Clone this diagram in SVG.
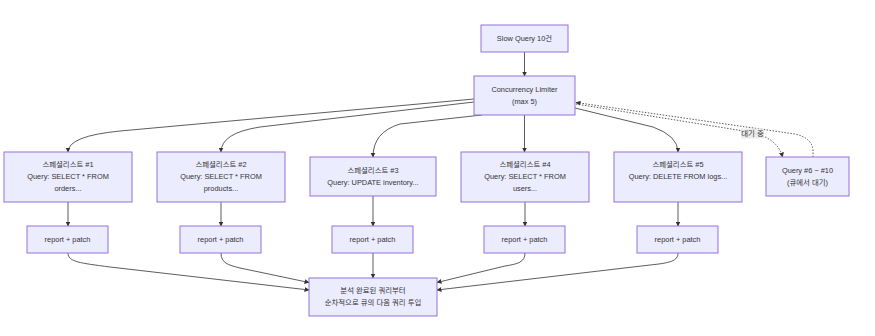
<svg xmlns="http://www.w3.org/2000/svg" width="875" height="336" viewBox="0 0 875 336">
<style>
.n rect{fill:#ECECFF;stroke:#9370DB;stroke-width:1}
text{font-family:"Liberation Sans","Noto Sans CJK KR",sans-serif;font-size:7.4px;fill:#333;text-anchor:middle;dominant-baseline:central}
.e{fill:none;stroke:#333;stroke-width:0.8}
.d{fill:none;stroke:#333;stroke-width:0.8;stroke-dasharray:1.5 1.5}
</style>
<defs>
<marker id="ah" viewBox="0 0 10 10" refX="9" refY="5" markerWidth="5" markerHeight="5" orient="auto" markerUnits="userSpaceOnUse">
<path d="M0,0 L10,5 L0,10 z" fill="#333"/>
</marker>
</defs>
<rect width="875" height="336" fill="#fff"/>
<g id="connectors">
<path class="e" d="M524.5,52 L524.5,76" marker-end="url(#ah)"/>
<path class="e" d="M474,99 L120,131 Q68,136 68,152" marker-end="url(#ah)"/>
<path class="e" d="M474,102 L260,127 Q221,133 221,152" marker-end="url(#ah)"/>
<path class="e" d="M482,115 L400,124 Q373,132 373,157" marker-end="url(#ah)"/>
<path class="e" d="M524.5,115 L524.5,152" marker-end="url(#ah)"/>
<path class="e" d="M575,108 L653,127 Q678,136 678,152" marker-end="url(#ah)"/>
<path class="d" d="M576,104 L750,132 Q778,138 782.5,157" marker-end="url(#ah)"/>
<path class="d" d="M813,157 L813,150 Q812,138 795,134 L576,102.5" marker-end="url(#ah)"/>
<path class="e" d="M68,202 L68,226" marker-end="url(#ah)"/>
<path class="e" d="M221,202 L221,226" marker-end="url(#ah)"/>
<path class="e" d="M373,196 L373,226" marker-end="url(#ah)"/>
<path class="e" d="M525,202 L525,226" marker-end="url(#ah)"/>
<path class="e" d="M678,202 L678,226" marker-end="url(#ah)"/>
<path class="e" d="M68,253 C68,262 80,263 110,267 L309,290" marker-end="url(#ah)"/>
<path class="e" d="M221,253 C221,263 228,265 240,268 L309,282.5" marker-end="url(#ah)"/>
<path class="e" d="M373,253 L373,278" marker-end="url(#ah)"/>
<path class="e" d="M525,253 C525,262 518,264 505,266 L437,282.5" marker-end="url(#ah)"/>
<path class="e" d="M678,253 C678,261 670,263 650,265 L437,290" marker-end="url(#ah)"/>
<rect x="741" y="128.5" width="23" height="10" fill="#e8e8e8" opacity="0.85"/>
<text x="752.5" y="133.5">대기 중</text>
</g>
<g id="slow" class="n"><rect x="481" y="25" width="87" height="27"/><text x="524.5" y="38.5">Slow Query 10건</text></g>
<g id="limiter" class="n"><rect x="474" y="76" width="101" height="39"/><text x="524.5" y="89.5">Concurrency Limiter</text><text x="524.5" y="101.5">(max 5)</text></g>
<g id="s1" class="n"><rect x="4" y="152" width="128" height="50"/><text x="68" y="164">스페셜리스트 #1</text><text x="68" y="176">Query: SELECT * FROM</text><text x="68" y="188">orders...</text></g>
<g id="s2" class="n"><rect x="157" y="152" width="128" height="50"/><text x="221" y="164">스페셜리스트 #2</text><text x="221" y="176">Query: SELECT * FROM</text><text x="221" y="188">products...</text></g>
<g id="s3" class="n"><rect x="310" y="157" width="126" height="39"/><text x="373" y="170">스페셜리스트 #3</text><text x="373" y="182">Query: UPDATE inventory...</text></g>
<g id="s4" class="n"><rect x="461" y="152" width="128" height="50"/><text x="525" y="164">스페셜리스트 #4</text><text x="525" y="176">Query: SELECT * FROM</text><text x="525" y="188">users...</text></g>
<g id="s5" class="n"><rect x="614" y="152" width="128" height="50"/><text x="678" y="164">스페셜리스트 #5</text><text x="678" y="176">Query: DELETE FROM logs...</text></g>
<g id="queue" class="n"><rect x="766" y="157" width="83" height="39"/><text x="807.5" y="170">Query #6 ~ #10</text><text x="807.5" y="182">(큐에서 대기)</text></g>
<g id="r1" class="n"><rect x="27" y="226" width="81" height="27"/><text x="67.5" y="239.5">report + patch</text></g>
<g id="r2" class="n"><rect x="180" y="226" width="81" height="27"/><text x="220.5" y="239.5">report + patch</text></g>
<g id="r3" class="n"><rect x="332" y="226" width="81" height="27"/><text x="372.5" y="239.5">report + patch</text></g>
<g id="r4" class="n"><rect x="484" y="226" width="81" height="27"/><text x="524.5" y="239.5">report + patch</text></g>
<g id="r5" class="n"><rect x="637" y="226" width="81" height="27"/><text x="677.5" y="239.5">report + patch</text></g>
<g id="final" class="n"><rect x="309" y="278" width="128" height="38"/><text x="373" y="290">분석 완료된 쿼리부터</text><text x="373" y="302">순차적으로 큐의 다음 쿼리 투입</text></g>
</svg>
